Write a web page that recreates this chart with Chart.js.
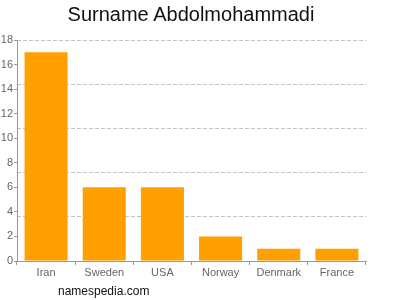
<!DOCTYPE html>
<html>
<head>
<meta charset="utf-8">
<script src="https://cdn.jsdelivr.net/npm/chart.js@4"></script>
<style>
html,body{margin:0;padding:0;background:#fff;}
#wrap{position:relative;width:400px;height:300px;}
#title{position:absolute;left:0;width:382px;top:3px;text-align:center;font-family:"Liberation Sans",Arial,sans-serif;font-size:20px;color:#111;}
#mark{position:absolute;left:58px;top:284px;font-family:"Liberation Sans",Arial,sans-serif;font-size:12px;color:#111;}
</style>
</head>
<body>
<div id="wrap">
<canvas id="c" width="400" height="300"></canvas>
<div id="title">Surname Abdolmohammadi</div>
<div id="mark">namespedia.com</div>
</div>
<script>
const categories = ["Iran","Sweden","USA","Norway","Denmark","France"];
const counts = [17,6,6,2,1,1];
const yTicks = [0,2,4,6,8,10,12,14,16,18];
const gridLevels = [0,3.6,7.2,10.8,14.4,18];

new Chart(document.getElementById('c'), {
  type: 'bar',
  data: {
    labels: categories,
    datasets: [{
      data: counts,
      backgroundColor: '#ffa000',
      borderWidth: 0,
      categoryPercentage: 1,
      barPercentage: 0.74
    }]
  },
  options: {
    responsive: false,
    animation: false,
    layout: { padding: { top: 40, right: 34, left: 0, bottom: 0 } },
    plugins: { legend: { display: false }, title: { display: false }, tooltip: { enabled: false } },
    scales: {
      x: {
        grid: { display: true, drawOnChartArea: false, drawTicks: true, tickLength: 4, color: '#999' },
        border: { display: true, color: '#999', width: 1 },
        ticks: { color: '#666', font: { family: 'Liberation Sans, Arial, sans-serif', size: 11 }, padding: 1, maxRotation: 0 },
        afterFit: s => { s.height = 39; }
      },
      y: {
        min: 0, max: 18,
        afterBuildTicks: s => { s.ticks = yTicks.map(v => ({ value: v })); },
        grid: { display: true, drawOnChartArea: false, drawTicks: true, tickLength: 3, color: '#999' },
        border: { display: true, color: '#999', width: 1 },
        ticks: { color: '#666', font: { family: 'Liberation Sans, Arial, sans-serif', size: 11 }, padding: 1 },
        afterFit: s => { s.width = 17; }
      },
      g: {
        position: 'left',
        min: 0, max: 18,
        afterBuildTicks: s => { s.ticks = gridLevels.map(v => ({ value: v })); },
        grid: { display: true, drawTicks: false, color: ctx => ctx.tick && ctx.tick.value === 0 ? 'rgba(0,0,0,0)' : '#c4c4c4', lineWidth: 1 },
        border: { display: false, dash: [4, 2] },
        ticks: { display: false },
        afterFit: s => { s.width = 0; }
      }
    }
  }
});
</script>
</body>
</html>
